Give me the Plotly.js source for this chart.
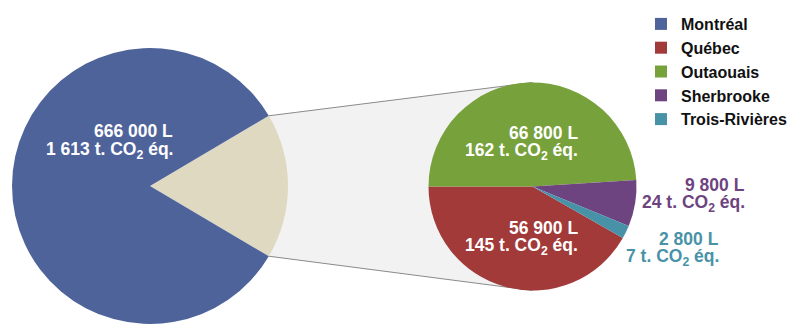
<!DOCTYPE html>
<html><head><meta charset="utf-8">
<script src="https://cdn.plot.ly/plotly-3.0.1.min.js"></script>
<style>html,body{margin:0;padding:0;overflow:hidden;background:#fff}</style>
</head><body><div id="chart" style="width:801px;height:324px"></div>
<script>
// ---- data ----
const regions = ['Montréal', 'Québec', 'Outaouais', 'Sherbrooke', 'Trois-Rivières'];
const volumesL = [666000, 56900, 66800, 9800, 2800];
const emissionsT = [1613, 145, 162, 24, 7];
const otherLabel = 'Autres';

// ---- styles ----
const colors = ['#4F639B', '#A13A39', '#77A13B', '#6D4380', '#4892A8'];
const otherColor = '#DED9C0';
const W = 801, H = 324;
const FONT = '"Liberation Sans", Arial, Helvetica, sans-serif';
const bigPie = {cx: 150, cy: 186, r: 138};
const smallPie = {cx: 532.5, cy: 186.5, r: 104};
// label anchor positions (right edge x, line centres y) in px
const labelPos = [
  {x: 175, y1: 131, y2: 150, inside: true},
  {x: 580, y1: 228, y2: 246, inside: true},
  {x: 580, y1: 133, y2: 151, inside: true},
  {x: 747, y1: 185, y2: 203, inside: false},
  {x: 721, y1: 239, y2: 257, inside: false}
];

function domainOf(p) {
  return {x: [(p.cx - p.r) / W, (p.cx + p.r) / W], y: [1 - (p.cy + p.r) / H, 1 - (p.cy - p.r) / H]};
}
function fmt(n) { return String(n).replace(/\B(?=(\d{3})+(?!\d))/g, ' '); }
const px = x => x / W, py = y => 1 - y / H;

const otherSum = volumesL.slice(1).reduce((a, b) => a + b, 0);
const total = volumesL[0] + otherSum;

const bigTrace = {
  type: 'pie', labels: [otherLabel, regions[0]], values: [otherSum, volumesL[0]],
  marker: {colors: [otherColor, colors[0]], line: {width: 0}},
  sort: false, direction: 'clockwise', rotation: 90 - 180 * otherSum / total,
  textinfo: 'none', hoverinfo: 'none', showlegend: false, domain: domainOf(bigPie)
};
const smallValues = volumesL.map((v, i) => i === 0 ? 0 : v);
const smallTrace = {
  type: 'pie', labels: regions, values: smallValues,
  marker: {colors: colors, line: {width: 0}},
  sort: false, direction: 'clockwise', rotation: 270 - 360 * volumesL[1] / otherSum,
  textinfo: 'none', hoverinfo: 'none', showlegend: true, domain: domainOf(smallPie)
};

// connector geometry derived from the pies
const th = Math.PI * otherSum / total;
const P1 = [bigPie.cx + bigPie.r * Math.cos(th), bigPie.cy - bigPie.r * Math.sin(th)];
const P2 = [bigPie.cx + bigPie.r * Math.cos(th), bigPie.cy + bigPie.r * Math.sin(th)];
const T2 = [smallPie.cx, smallPie.cy - smallPie.r];
const B2 = [smallPie.cx, smallPie.cy + smallPie.r];
const pt = p => px(p[0]) + ',' + py(p[1]);
const shapes = [
  {type: 'path', xref: 'paper', yref: 'paper', layer: 'below',
   path: 'M' + pt(P1) + 'L' + pt(T2) + 'L' + pt(B2) + 'L' + pt(P2) + 'Z',
   fillcolor: '#F2F2F2', line: {width: 0}},
  {type: 'line', xref: 'paper', yref: 'paper', layer: 'below',
   x0: px(P1[0]), y0: py(P1[1]), x1: px(T2[0]), y1: py(T2[1]), line: {color: '#8A8A8A', width: 1}},
  {type: 'line', xref: 'paper', yref: 'paper', layer: 'below',
   x0: px(P2[0]), y0: py(P2[1]), x1: px(B2[0]), y1: py(B2[1]), line: {color: '#8A8A8A', width: 1}}
];

const annotations = [];
regions.forEach((r, i) => {
  const lp = labelPos[i];
  const col = lp.inside ? '#FFFFFF' : colors[i];
  const f = {family: FONT, size: 17.5, color: col, weight: 700};
  annotations.push({xref: 'paper', yref: 'paper', x: px(lp.x), y: py(lp.y1), xanchor: 'right', yanchor: 'middle',
    showarrow: false, align: 'right', text: fmt(volumesL[i]) + ' L', font: f});
  annotations.push({xref: 'paper', yref: 'paper', x: px(lp.x), y: py(lp.y2), xanchor: 'right', yanchor: 'middle',
    showarrow: false, align: 'right', text: fmt(emissionsT[i]) + ' t. CO<sub>2</sub> éq.', font: f});
});

const layout = {
  width: W, height: H, margin: {l: 0, r: 0, t: 0, b: 0},
  paper_bgcolor: '#FFFFFF', plot_bgcolor: '#FFFFFF',
  showlegend: true,
  legend: {x: px(641), y: py(7), xanchor: 'left', yanchor: 'top', traceorder: 'normal',
           font: {family: FONT, size: 16, color: '#111111', weight: 700}, bgcolor: 'rgba(0,0,0,0)'},
  shapes: shapes, annotations: annotations
};
Plotly.newPlot('chart', [bigTrace, smallTrace], layout, {staticPlot: true, displayModeBar: false});
</script></body></html>
